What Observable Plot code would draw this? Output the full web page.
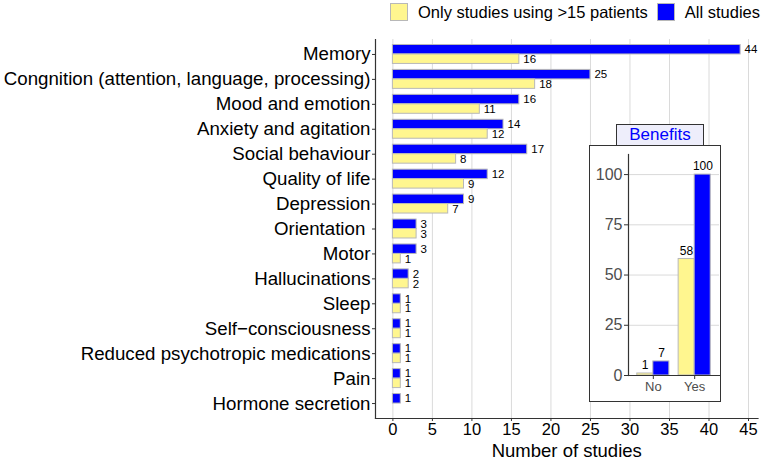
<!DOCTYPE html>
<html><head><meta charset="utf-8">
<script src="https://cdn.jsdelivr.net/npm/d3@7"></script>
<script src="https://cdn.jsdelivr.net/npm/@observablehq/plot@0.6"></script>
<style>
body{margin:0;background:#fff;font-family:"Liberation Sans",Arial,Helvetica,sans-serif;}
#wrap{position:relative;width:767px;height:460px;overflow:hidden;background:#fff;}
#legend{position:absolute;left:390px;top:2px;height:20px;display:flex;align-items:center;font-size:16.5px;color:#000;white-space:nowrap;}
#legend .key{width:16px;height:16px;border:1px solid #b8b8b8;display:inline-block;margin-right:10px;}
#legend .item{display:flex;align-items:center;margin-right:9px;}
#main{position:absolute;left:0;top:26px;}
#inset{position:absolute;left:589px;top:145px;width:130px;height:255px;border:1px solid #333;background:#fff;}
#inset svg{display:block;}
#insetTitle{position:absolute;left:616px;top:124px;width:86px;height:20px;border:1px solid #333;background:#eeeefb;color:#0000ff;font-size:17px;text-align:center;line-height:20px;}
</style></head><body>
<div id="wrap">
  <div id="legend"></div>
  <div id="main"></div>
  <div id="insetTitle"></div>
  <div id="inset"></div>
</div>
<script>
// ---- data ----
const categories = ["Memory","Congnition (attention, language, processing)","Mood and emotion","Anxiety and agitation","Social behaviour","Quality of life","Depression","Orientation ","Motor","Hallucinations","Sleep","Self\u2212consciousness","Reduced psychotropic medications","Pain","Hormone secretion"];
const allStudies = [44,25,16,14,17,12,9,3,3,2,1,1,1,1,1];
const over15Studies = [16,18,11,12,8,9,7,3,1,2,1,1,1,1,null];
const seriesNames = ["Only studies using >15 patients","All studies"];
const seriesColors = ["#FFF68F","#0000FF"];
const xTicks = [0,5,10,15,20,25,30,35,40,45];
const xDomain = [-2.2,46.2];
const xTitle = "Number of studies";

const benefitTitle = "Benefits";
const benefitCats = ["No","Yes"];
const benefitOver15 = [1,58];
const benefitAll = [7,100];
const benefitTicks = [0,25,50,75,100];
const benefitDomain = [0,110];

const font = "Liberation Sans, Arial, Helvetica, sans-serif";

// ---- legend ----
const legend = document.getElementById("legend");
seriesNames.forEach((s,i)=>{
  const it = document.createElement("div"); it.className="item";
  const k = document.createElement("span"); k.className="key"; k.style.background=seriesColors[i];
  it.appendChild(k); it.appendChild(document.createTextNode(s)); legend.appendChild(it);
});
document.getElementById("insetTitle").textContent = benefitTitle;

// ---- main chart ----
const rowsAll = categories.map((c,i)=>({category:c, series:seriesNames[1], value:allStudies[i]}));
const rowsOver = categories.map((c,i)=>({category:c, series:seriesNames[0], value:over15Studies[i]})).filter(d=>d.value!=null);

const W = 767, H = 434, mT = 13, mB = 42, mL = 375, mR = 9.5;
const step = (H - mT - mB) / (categories.length + 0.2);
const half = step * 0.8 / 2;

const main = Plot.plot({
  width: W, height: H,
  marginTop: mT, marginBottom: mB, marginLeft: mL, marginRight: mR,
  style: {fontFamily: font, color: "#000", background: "transparent", overflow: "visible"},
  x: {domain: xDomain, ticks: xTicks, label: null},
  y: {domain: categories, paddingInner: 0.2, paddingOuter: 0.2, round: false, label: null},
  color: {domain: seriesNames, range: seriesColors},
  marks: [
    Plot.gridX(xTicks, {stroke: "#dadada", strokeOpacity: 1, strokeWidth: 1}),
    Plot.barX(rowsAll, {x: "value", y: "category", fill: "series", stroke: "#b8b8b8", strokeWidth: 1, insetBottom: half, insetTop: 0.5}),
    Plot.barX(rowsOver, {x: "value", y: "category", fill: "series", stroke: "#b8b8b8", strokeWidth: 1, insetTop: half, insetBottom: 0.5}),
    Plot.text(rowsAll, {x: "value", y: "category", text: d => String(d.value), dx: 4, dy: -half/2, textAnchor: "start", fontSize: 11.5, fill: "#000"}),
    Plot.text(rowsOver, {x: "value", y: "category", text: d => String(d.value), dx: 4, dy: half/2, textAnchor: "start", fontSize: 11.5, fill: "#000"}),
    Plot.frame({anchor: "left", stroke: "#333", strokeWidth: 1.2}),
    Plot.frame({anchor: "bottom", stroke: "#333", strokeWidth: 1.2}),
    Plot.axisY({tickSize: 3, tickPadding: 2, fontSize: 18.7, stroke: "#333", fill: "#000", label: null}),
    Plot.axisX({ticks: xTicks, tickSize: 3, tickPadding: 2, fontSize: 16.5, stroke: "#333", fill: "#000", label: null}),
    Plot.text([xTitle], {frameAnchor: "bottom", dy: 38, fontSize: 18.5, fill: "#000"})
  ]
});
document.getElementById("main").appendChild(main);

// ---- inset chart ----
const bRows = [];
benefitCats.forEach((c,i)=>{
  bRows.push({cat:c, series:seriesNames[0], value:benefitOver15[i]});
  bRows.push({cat:c, series:seriesNames[1], value:benefitAll[i]});
});
const iW = 130, iH = 255, imL = 38, imR = 1, imT = 8, imB = 26;
const istep = (iW - imL - imR) / (benefitCats.length + 0.2);
const ihalf = istep * 0.8 / 2;
const bOver = bRows.filter(d=>d.series===seriesNames[0]);
const bAll = bRows.filter(d=>d.series===seriesNames[1]);
const inset = Plot.plot({
  width: iW, height: iH,
  marginTop: imT, marginBottom: imB, marginLeft: imL, marginRight: imR,
  style: {fontFamily: font, color: "#000", background: "transparent", overflow: "visible"},
  x: {domain: benefitCats, paddingInner: 0.2, paddingOuter: 0.2, round: false, label: null},
  y: {domain: benefitDomain, ticks: benefitTicks, label: null},
  color: {domain: seriesNames, range: seriesColors},
  marks: [
    Plot.gridY(benefitTicks, {stroke: "#dadada", strokeOpacity: 1}),
    Plot.barY(bOver, {x: "cat", y: "value", fill: "series", stroke: "#b8b8b8", insetRight: ihalf, insetLeft: 0.5}),
    Plot.barY(bAll, {x: "cat", y: "value", fill: "series", stroke: "#b8b8b8", insetLeft: ihalf, insetRight: 0.5}),
    Plot.text(bOver, {x: "cat", y: "value", text: d=>String(d.value), dx: -ihalf/2, dy: -8, fontSize: 12, fill: "#000"}),
    Plot.text(bAll, {x: "cat", y: "value", text: d=>String(d.value), dx: ihalf/2, dy: -8, fontSize: 12, fill: "#000"}),
    Plot.frame({anchor: "left", stroke: "#333", strokeWidth: 1.2}),
    Plot.frame({anchor: "bottom", stroke: "#333", strokeWidth: 1.2}),
    Plot.axisY({ticks: benefitTicks, tickSize: 4, tickPadding: 2, fontSize: 16, stroke: "#333", fill: "#4d4d4d", label: null}),
    Plot.axisX({tickSize: 4, tickPadding: 2, fontSize: 13, stroke: "#333", fill: "#4d4d4d", label: null})
  ]
});
document.getElementById("inset").appendChild(inset);
</script>
</body></html>
